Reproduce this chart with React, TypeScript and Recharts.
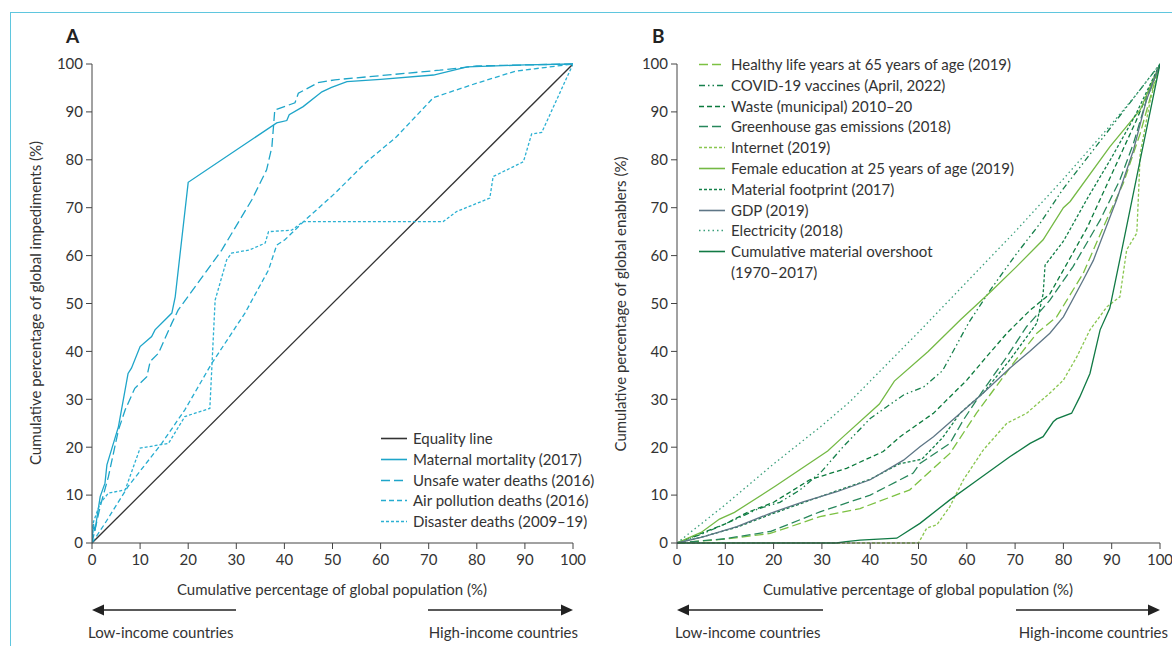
import { LineChart, Line, XAxis, YAxis } from "recharts";

type Pair = [number, number];

const ticks = [0, 10, 20, 30, 40, 50, 60, 70, 80, 90, 100];

// Panel A – impediments
const equality: Pair[] = [[0, 0], [100, 100]];
const maternal: Pair[] = [[0, 0], [0.3, 4], [0.6, 2.5], [1.7, 9.7], [2.7, 12.5], [3.1, 16.3], [5.5, 24.3], [7.5, 35.4], [8.2, 36.5], [10, 41], [12.4, 43.1], [13.1, 44.5], [16.6, 48], [17.3, 51.4], [20, 75.3], [38.4, 87.7], [40.5, 88.2], [41, 89.4], [43.9, 91.1], [47.8, 94.2], [49.8, 95.1], [53, 96.3], [60, 96.8], [71, 97.7], [78, 99.4], [90, 99.8], [100, 100]];
const unsafeWater: Pair[] = [[0, 0], [1.7, 7.6], [3.4, 13.8], [5.5, 23.6], [6.9, 27.8], [8.9, 32.3], [11.4, 34.7], [12.1, 37.9], [13.8, 39.6], [16.6, 45.9], [17.9, 48.6], [27, 61.2], [33.2, 71.6], [36.3, 77.9], [37.4, 82.7], [38, 90.4], [42.2, 91.9], [42.9, 93.9], [47, 96.1], [50.5, 96.7], [72.3, 98.7], [80, 99.6], [100, 100]];
const airPollution: Pair[] = [[0, 0], [2.7, 4.1], [7.5, 11.8], [14.5, 20.8], [19.3, 27.8], [24.9, 37.5], [31.8, 48], [36.7, 57], [38.4, 62.2], [40.1, 63.3], [44.3, 67.4], [50.5, 73], [57, 79.5], [63.3, 84.8], [71, 93], [80, 96], [88, 98.5], [92, 99], [100, 100]];
const disaster: Pair[] = [[0, 0], [0.3, 4.4], [1.7, 8.3], [3.4, 10.4], [6.9, 11.1], [10, 19.8], [15.9, 20.8], [19.3, 26.4], [24.5, 28.1], [25.6, 50.7], [28, 59.1], [29, 60.5], [32.8, 61.2], [36, 62.6], [36.7, 65], [41.5, 65.3], [43.9, 67.1], [73, 67.1], [75.8, 69.2], [82.7, 72], [83.4, 76.5], [89.7, 79.6], [91.4, 85.4], [93.5, 85.7], [100, 100]];

// Panel B – enablers
const healthyLife: Pair[] = [[0, 0], [10, 0.8], [19.3, 2], [29.6, 5.5], [37.9, 7.2], [48.2, 11.1], [56.5, 18.7], [62, 27.1], [69.6, 37.5], [74.5, 43.8], [78.6, 47.2], [84.1, 56.3], [88.3, 66], [92.4, 75.1], [95.9, 85.5], [99, 96.7], [100, 100]];
const covid: Pair[] = [[0, 0], [5, 1.8], [10, 4], [17, 7.2], [21.3, 8.5], [25.5, 11.1], [30, 15], [34.4, 20.1], [40, 26], [46.9, 30.9], [51.1, 32.6], [55, 36], [60.4, 46], [65, 53], [70, 60], [75, 66.5], [80, 74], [85, 80.5], [90, 87], [95, 93.5], [100, 100]];
const waste: Pair[] = [[0, 0], [5, 2], [10, 4], [14.4, 6.3], [20, 8.5], [27.5, 13.2], [35.1, 15.6], [42.7, 19.1], [46.2, 22.2], [53.1, 27.1], [60, 34], [64.1, 38.9], [68.3, 43.8], [73.1, 48.6], [77.2, 52], [80, 57], [85, 66], [90, 77], [95, 88], [100, 100]];
const greenhouse: Pair[] = [[0, 0], [10, 0.9], [19.3, 2.4], [29.6, 6.5], [40, 10], [48.9, 14.6], [50.3, 16.6], [56.5, 20.8], [59.3, 25.7], [63.4, 31.9], [68.3, 38.9], [72.4, 45.2], [77.2, 50.7], [82, 57.7], [87.6, 67.4], [91.7, 75.8], [94.5, 83.4], [97.2, 92.5], [100, 100]];
const internet: Pair[] = [[0, 0], [50, 0], [51.7, 3.1], [53.8, 3.8], [56.5, 7.6], [59.3, 13.2], [63.4, 19.4], [68.3, 25], [72.4, 27.1], [77.2, 31.3], [80, 34], [82.8, 38.9], [85.5, 44.5], [89, 49.3], [91.7, 51.4], [93.1, 61.2], [95.2, 64.7], [95.5, 71.6], [95.9, 81.3], [98, 92.5], [100, 100]];
const femaleEducation: Pair[] = [[0, 0], [5, 2.2], [8.8, 5], [11.9, 6.4], [20.4, 11.9], [31.2, 19.2], [34.2, 22], [41.9, 29], [45, 33.8], [52, 40], [58.8, 46.7], [65, 52.5], [70.3, 57.7], [75.8, 63.3], [80, 70], [81.4, 71.3], [89.6, 82.7], [95.9, 90.4], [100, 100]];
const materialFootprint: Pair[] = [[0, 0], [5, 1.2], [12.4, 3.3], [20, 6.2], [30, 9.8], [40, 13.3], [46, 16.5], [50.7, 17.5], [55, 22], [58.6, 27.1], [63.4, 31.3], [68.9, 38.2], [74.5, 45.9], [75.8, 52], [76.2, 58], [80, 63], [85, 72], [90, 80.5], [95, 89.5], [100, 100]];
const gdp: Pair[] = [[0, 0], [5.4, 1.3], [12.4, 3.4], [19.3, 6.2], [26.1, 8.6], [33.1, 10.7], [40, 13.2], [46.9, 17.3], [50.3, 20.1], [53.1, 22.2], [58, 26.5], [63.4, 31.3], [68.9, 36.5], [73, 40], [77.2, 43.8], [80, 47.2], [84.1, 54.9], [86.2, 59], [91, 71.6], [94.5, 82], [97.2, 92.5], [100, 100]];
const electricity: Pair[] = [[0, 0], [10, 8], [20, 16.5], [30, 24.5], [35.8, 29.5], [40, 33.8], [50, 44], [60, 54.5], [70, 65], [80, 76], [90, 87.5], [95, 93.5], [100, 100]];
const overshoot: Pair[] = [[0, 0], [33, 0], [35, 0.3], [37.9, 0.6], [45.5, 1], [50.3, 4.1], [56.5, 9], [62, 13], [68.9, 18], [73.1, 20.8], [75.8, 22.2], [77.9, 25.3], [78.6, 25.9], [81.7, 27.1], [83.4, 30.5], [85.5, 35.4], [87.6, 44.5], [89.6, 49], [92.1, 61.2], [95.9, 80], [100, 100]];

const toPts = (a: Pair[]) => a.map(([x, y]) => ({ x, y }));

const FONT = "Lato, 'Open Sans', sans-serif";
const TXT = "#333";
const CYAN = "#1ea5c9";

type Series = { name: string; data: Pair[]; color: string; dash?: string; width?: number };

const seriesA: Series[] = [
  { name: "Equality line", data: equality, color: "#333" },
  { name: "Maternal mortality (2017)", data: maternal, color: CYAN },
  { name: "Unsafe water deaths (2016)", data: unsafeWater, color: CYAN, dash: "9 4" },
  { name: "Air pollution deaths (2016)", data: airPollution, color: "#25acd0", dash: "5 3" },
  { name: "Disaster deaths (2009–19)", data: disaster, color: "#2cb1d3", dash: "3 2" },
];

const seriesB: Series[] = [
  { name: "Healthy life years at 65 years of age (2019)", data: healthyLife, color: "#7cc142", dash: "9 4" },
  { name: "COVID-19 vaccines (April, 2022)", data: covid, color: "#17804c", dash: "6 3 1.5 3 1.5 3" },
  { name: "Waste (municipal) 2010–20", data: waste, color: "#0b7a3c", dash: "5 3" },
  { name: "Greenhouse gas emissions (2018)", data: greenhouse, color: "#27875b", dash: "9 4" },
  { name: "Internet (2019)", data: internet, color: "#8ac650", dash: "3 2" },
  { name: "Female education at 25 years of age (2019)", data: femaleEducation, color: "#74b944" },
  { name: "Material footprint (2017)", data: materialFootprint, color: "#14804a", dash: "3 2" },
  { name: "GDP (2019)", data: gdp, color: "#5e7686" },
  { name: "Electricity (2018)", data: electricity, color: "#3a9f7b", dash: "1.5 3" },
  { name: "Cumulative material overshoot\n(1970–2017)", data: overshoot, color: "#117a45" },
];

const abs = (left: number, top: number, extra: React.CSSProperties = {}): React.CSSProperties => ({
  position: "absolute",
  left,
  top,
  fontFamily: FONT,
  fontSize: 15,
  color: TXT,
  whiteSpace: "nowrap",
  lineHeight: "20.8px",
  ...extra,
});

function Panel({ series, width, left, mLeft, mRight }: { series: Series[]; width: number; left: number; mLeft: number; mRight: number }) {
  return (
    <div style={{ position: "absolute", left, top: 0 }}>
      <LineChart width={width} height={646} margin={{ top: 64, right: mRight, bottom: 73, left: mLeft }}>
        <XAxis
          dataKey="x"
          type="number"
          domain={[0, 100]}
          ticks={ticks}
          height={30}
          stroke="#444"
          tickSize={6}
          tickMargin={5}
          tick={{ fontSize: 15, fill: TXT, fontFamily: FONT }}
          allowDataOverflow
        />
        <YAxis
          type="number"
          domain={[0, 100]}
          ticks={ticks}
          width={40}
          stroke="#444"
          tickSize={6}
          tickMargin={3}
          tick={{ fontSize: 15, fill: TXT, fontFamily: FONT }}
        />
        {series.map((s, i) => (
          <Line
            key={i}
            data={toPts(s.data)}
            dataKey="y"
            type="linear"
            stroke={s.color}
            strokeWidth={s.width ?? 1.3}
            strokeDasharray={s.dash}
            dot={false}
            activeDot={false}
            isAnimationActive={false}
          />
        ))}
      </LineChart>
    </div>
  );
}

function Legend({ series, left, top }: { series: Series[]; left: number; top: number }) {
  return (
    <div style={abs(left, top)}>
      {series.map((s, i) => (
        <div key={i} style={{ display: "flex", alignItems: "flex-start" }}>
          <svg width={32} height={20.8} style={{ flex: "none" }}>
            <line x1={0} x2={26} y1={10.5} y2={10.5} stroke={s.color} strokeWidth={1.6} strokeDasharray={s.dash} />
          </svg>
          <div style={{ whiteSpace: "pre" }}>{s.name}</div>
        </div>
      ))}
    </div>
  );
}

function Arrows({ lx, rx, lTail, rTail }: { lx: number; rx: number; lTail: number; rTail: number }) {
  const y = 610;
  return (
    <>
      <line x1={lx + 10} x2={lTail} y1={y} y2={y} stroke="#222" strokeWidth={1.6} />
      <polygon points={`${lx},${y} ${lx + 12},${y - 5.5} ${lx + 12},${y + 5.5}`} fill="#222" />
      <line x1={rTail} x2={rx - 10} y1={y} y2={y} stroke="#222" strokeWidth={1.6} />
      <polygon points={`${rx},${y} ${rx - 12},${y - 5.5} ${rx - 12},${y + 5.5}`} fill="#222" />
    </>
  );
}

export default function App() {
  return (
    <div style={{ position: "absolute", left: 0, top: 0, width: 1172, height: 646, background: "#fff", overflow: "hidden" }}>
      <div style={{ position: "absolute", left: 10, top: 12, width: 1200, height: 700, borderTop: "1.5px solid #5fc6de", borderLeft: "1.5px solid #5fc6de" }} />

      <Panel series={seriesA} width={600} left={0} mLeft={52} mRight={27} />
      <Panel series={seriesB} width={572} left={600} mLeft={37} mRight={12} />

      <div style={abs(66, 26, { fontSize: 19, fontWeight: 700, color: "#222" })}>A</div>
      <div style={abs(652, 26, { fontSize: 19, fontWeight: 700, color: "#222" })}>B</div>

      <Legend series={seriesA} left={381} top={428} />
      <Legend series={seriesB} left={699} top={54} />

      <div style={abs(332, 589, { transform: "translate(-50%, -50%)" })}>Cumulative percentage of global population (%)</div>
      <div style={abs(918, 589, { transform: "translate(-50%, -50%)" })}>Cumulative percentage of global population (%)</div>

      <div style={abs(35, 303, { transform: "translate(-50%, -50%) rotate(-90deg)" })}>Cumulative percentage of global impediments (%)</div>
      <div style={abs(620, 304, { transform: "translate(-50%, -50%) rotate(-90deg)" })}>Cumulative percentage of global enablers (%)</div>

      <svg width={1172} height={646} style={{ position: "absolute", left: 0, top: 0, pointerEvents: "none" }}>
        <Arrows lx={92} rx={573} lTail={236} rTail={428} />
        <Arrows lx={677} rx={1160} lTail={823} rTail={1016} />
      </svg>

      <div style={abs(88, 622)}>Low-income countries</div>
      <div style={abs(578, 622, { transform: "translateX(-100%)" })}>High-income countries</div>
      <div style={abs(675, 622)}>Low-income countries</div>
      <div style={abs(1168, 622, { transform: "translateX(-100%)" })}>High-income countries</div>
    </div>
  );
}
